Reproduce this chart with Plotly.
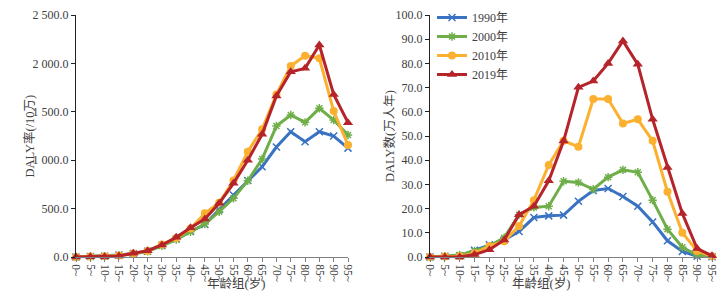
import plotly.graph_objects as go

age_groups = ["0~", "5~", "10~", "15~", "20~", "25~", "30~", "35~", "40~", "45~",
              "50~", "55~", "60~", "65~", "70~", "75~", "80~", "85~", "90~", "95~"]
years = ["1990年", "2000年", "2010年", "2019年"]

# DALY rate (/10万)
rate_1990 = [0, 5, 8, 20, 35, 60, 120, 185, 265, 335, 490, 640, 790, 933, 1136, 1294, 1191, 1294, 1250, 1125]
rate_2000 = [0, 4, 7, 18, 32, 58, 115, 180, 261, 341, 468, 606, 788, 1012, 1353, 1467, 1391, 1536, 1415, 1260]
rate_2010 = [0, 5, 8, 15, 35, 62, 130, 195, 295, 451, 560, 790, 1088, 1319, 1680, 1973, 2080, 2053, 1508, 1157]
rate_2019 = [0, 3, 3, 10, 38, 65, 124, 203, 303, 393, 555, 761, 1000, 1267, 1663, 1914, 1949, 2190, 1680, 1388]

# DALY number (万人年)
num_1990 = [0, 0.3, 0.5, 2.8, 5.0, 7.0, 10.5, 16.3, 17.0, 17.3, 23.0, 27.5, 28.3, 25.0, 21.0, 14.5, 6.7, 2.3, 0.3, 0.1]
num_2000 = [0, 0.3, 0.8, 2.5, 4.5, 8.0, 17.5, 20.5, 21.0, 31.3, 30.8, 28.0, 33.0, 36.0, 35.0, 23.5, 11.5, 4.0, 0.8, 0.2]
num_2010 = [0, 0.2, 0.3, 1.5, 4.5, 6.5, 12.8, 23.5, 38.0, 48.0, 45.6, 65.3, 65.3, 55.2, 56.9, 48.0, 27.0, 10.0, 2.5, 0.3]
num_2019 = [0, 0, 0, 1.0, 3.0, 7.0, 17.5, 21.0, 31.5, 47.9, 70.1, 72.7, 80.0, 89.3, 79.6, 56.9, 37.0, 18.0, 3.5, 0.5]

rate_ticks = [0, 500, 1000, 1500, 2000, 2500]
rate_ticktext = ["0.0", "500.0", "1 000.0", "1 500.0", "2 000.0", "2 500.0"]
num_ticks = [0, 10, 20, 30, 40, 50, 60, 70, 80, 90, 100]
num_ticktext = ["0.0", "10.0", "20.0", "30.0", "40.0", "50.0", "60.0", "70.0", "80.0", "90.0", "100.0"]

colors = ["#3A73C2", "#6FAE48", "#FBB030", "#B5242A"]
markers = [
    dict(symbol="x-thin", size=7, line=dict(width=1.5, color=colors[0])),
    dict(symbol="asterisk", size=7, line=dict(width=1.5, color=colors[1])),
    dict(symbol="circle", size=8),
    dict(symbol="triangle-up", size=9),
]

rates = [rate_1990, rate_2000, rate_2010, rate_2019]
nums = [num_1990, num_2000, num_2010, num_2019]

fig = go.Figure()
for i in range(4):
    fig.add_trace(go.Scatter(
        x=age_groups, y=rates[i], mode="lines+markers", name=years[i],
        line=dict(color=colors[i], width=3), marker=dict(color=colors[i], **markers[i]),
        xaxis="x", yaxis="y", showlegend=False, cliponaxis=False))
for i in range(4):
    fig.add_trace(go.Scatter(
        x=age_groups, y=nums[i], mode="lines+markers", name=years[i],
        line=dict(color=colors[i], width=3), marker=dict(color=colors[i], **markers[i]),
        xaxis="x2", yaxis="y2", showlegend=True, cliponaxis=False))

W, H = 725, 303
OFF = 8  # page body margin


def fx(px):
    return (px - OFF) / W


def fy(py):
    return (H - (py - OFF)) / H


font_main = "Liberation Serif, Noto Sans CJK SC, serif"
tick_font = dict(family=font_main, size=12, color="#404040")
xtick_font = dict(family=font_main, size=11.5, color="#404040")

ydom = [fy(257), fy(15)]
xaxis_common = dict(type="category", range=[0, 19], showgrid=False, showline=True,
                    linecolor="#808080", linewidth=1, ticks="outside", ticklen=4,
                    tickcolor="#808080", tickangle=90, tickfont=xtick_font, zeroline=False,
                    automargin=False)
yaxis_common = dict(showgrid=False, showline=True, linecolor="#222222", linewidth=1,
                    ticks="outside", ticklen=4, tickcolor="#222222", tickfont=tick_font,
                    zeroline=False, domain=ydom, automargin=False)

title_font = dict(family=font_main, size=12.5, color="#404040")

fig.update_layout(
    width=W, height=H, margin=dict(l=0, r=0, t=0, b=0, autoexpand=False),
    paper_bgcolor="white", plot_bgcolor="white",
    font=dict(family=font_main, color="#404040"),
    xaxis=dict(domain=[fx(76), fx(348)], anchor="y", **xaxis_common),
    yaxis=dict(range=[0, 2500], tickvals=rate_ticks, ticktext=rate_ticktext, anchor="x", **yaxis_common),
    xaxis2=dict(domain=[fx(430), fx(712)], anchor="y2", **xaxis_common),
    yaxis2=dict(range=[0, 100], tickvals=num_ticks, ticktext=num_ticktext, anchor="x2", **yaxis_common),
    legend=dict(x=fx(432), y=fy(3), xanchor="left", yanchor="top",
                font=dict(family=font_main, size=12, color="#404040"),
                bgcolor="rgba(0,0,0,0)", tracegroupgap=0, itemwidth=30),
    annotations=[
        dict(text="年龄组(岁)", x=fx(205), y=fy(293), xref="paper", yref="paper",
             showarrow=False, font=title_font),
        dict(text="年龄组(岁)", x=fx(572), y=fy(293), xref="paper", yref="paper",
             showarrow=False, font=title_font),
        dict(text="DALY率(/10万)", x=fx(19), y=fy(136), xref="paper", yref="paper",
             showarrow=False, textangle=-90, font=title_font),
        dict(text="DALY数(万人年)", x=fx(389), y=fy(136), xref="paper", yref="paper",
             showarrow=False, textangle=-90, font=title_font),
    ],
)

fig.write_html("out.html")
